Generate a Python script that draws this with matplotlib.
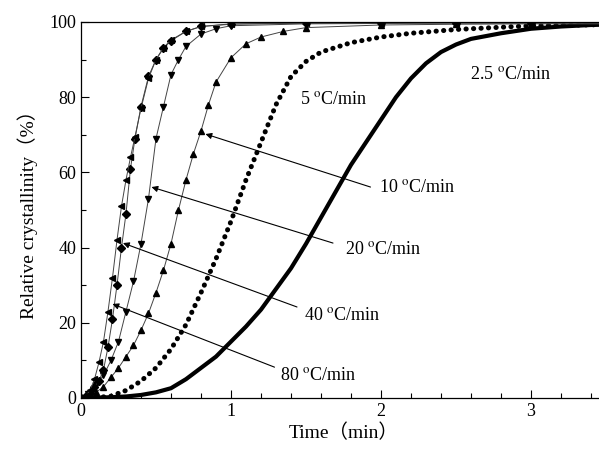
import numpy as np
import matplotlib.pyplot as plt

plt.rcParams['font.family'] = ['Liberation Serif', 'Noto Sans CJK SC']
plt.rcParams['mathtext.fontset'] = 'stix'

# values (time in min, relative crystallinity in %)
t_80 = [0, 0.03, 0.06, 0.09, 0.12, 0.15, 0.18, 0.21, 0.24, 0.27, 0.30, 0.33, 0.36,
        0.40, 0.45, 0.50, 0.55, 0.60, 0.70, 0.80, 1.0, 1.5, 2.0, 2.5, 3.0, 3.5]
y_80 = [0, 0.5, 2, 5, 9.5, 15, 23, 32, 42, 51, 58, 64, 69.5,
        77, 85, 90, 93.2, 95.2, 97.5, 98.8, 99.5, 99.7, 99.8, 99.8, 99.8, 99.8]

t_40 = [0, 0.03, 0.06, 0.09, 0.12, 0.15, 0.18, 0.21, 0.24, 0.27, 0.30, 0.33, 0.36,
        0.40, 0.45, 0.50, 0.55, 0.60, 0.70, 0.80, 1.0, 1.5, 2.0, 2.5, 3.0, 3.5]
y_40 = [0, 0.3, 1.2, 3, 4.5, 7.5, 13.5, 21, 30, 40, 49, 61, 69,
        77.5, 85.5, 90, 93, 95, 97.5, 98.8, 99.4, 99.7, 99.8, 99.8, 99.8, 99.8]

t_20 = [0, 0.05, 0.10, 0.15, 0.20, 0.25, 0.30, 0.35, 0.40, 0.45, 0.50, 0.55, 0.60,
        0.65, 0.70, 0.80, 0.90, 1.0, 1.5, 2.0, 2.5, 3.0, 3.5]
y_20 = [0, 1, 3.5, 6, 10, 15, 23, 31, 41, 53, 69, 77.5, 86,
        90, 93.5, 96.8, 98.2, 99, 99.5, 99.6, 99.7, 99.7, 99.7]

t_10 = [0, 0.05, 0.10, 0.15, 0.20, 0.25, 0.30, 0.35, 0.40, 0.45, 0.50, 0.55, 0.60,
        0.65, 0.70, 0.75, 0.80, 0.85, 0.90, 1.0, 1.1, 1.2, 1.35, 1.5, 2.0, 2.5, 3.0, 3.5]
y_10 = [0, 0.3, 1.5, 3, 5.5, 8, 11, 14, 18, 22.5, 28, 34, 41,
        50, 58, 65, 71, 78, 84, 90.5, 94.2, 96, 97.5, 98.5, 99.2, 99.4, 99.5, 99.5]

t_5 = [0, 0.1, 0.2, 0.3, 0.4, 0.5, 0.6, 0.7, 0.8, 0.9, 1.0, 1.1, 1.2, 1.3, 1.4,
       1.5, 1.6, 1.8, 2.0, 2.2, 2.5, 3.0, 3.5]
y_5 = [0, 0.1, 0.5, 2, 4.5, 8, 13, 19.5, 28, 37, 47, 58, 68, 78, 85.5,
       89.5, 92, 94.5, 96, 97, 98, 99, 99.3]

t_25 = [0, 0.2, 0.3, 0.4, 0.5, 0.6, 0.7, 0.8, 0.9, 1.0, 1.1, 1.2, 1.3, 1.4, 1.5,
        1.6, 1.7, 1.8, 1.9, 2.0, 2.1, 2.2, 2.3, 2.4, 2.5, 2.6, 2.8, 3.0, 3.2, 3.4, 3.5]
y_25 = [0, 0.2, 0.4, 0.8, 1.5, 2.6, 5, 8, 11, 15, 19, 23.5, 29, 34.5, 41,
        48, 55, 62, 68, 74, 80, 85, 89, 92, 94, 95.5, 97, 98.2, 98.8, 99.2, 99.3]

fig = plt.figure(figsize=(5.99, 4.55), dpi=100)
ax = fig.add_axes([0.1352, 0.1253, 0.8765, 0.8264])

ax.plot(t_25, y_25, color='k', lw=3.0, solid_capstyle='butt')
ax.plot(t_5, y_5, color='k', lw=3.6, linestyle=(0, (0.05, 1.45)), dash_capstyle='round')
ax.plot(t_10, y_10, color='#444444', lw=0.7, marker='^', ms=4.5, mfc='k', mec='k')
ax.plot(t_20, y_20, color='#444444', lw=0.7, marker='v', ms=4.5, mfc='k', mec='k')
ax.plot(t_40, y_40, color='#444444', lw=0.7, marker='D', ms=3.8, mfc='k', mec='k')
ax.plot(t_80, y_80, color='#444444', lw=0.7, marker='<', ms=4.5, mfc='k', mec='k')

arr = dict(arrowstyle='-|>', lw=0.8, color='k', mutation_scale=9, shrinkA=0, shrinkB=0)
lab = r'%s $^{\mathrm{o}}$C/min'
ax.annotate('', xy=(0.83, 70.2), xytext=(1.93, 56.1), arrowprops=arr)
ax.annotate('', xy=(0.47, 56.1), xytext=(1.68, 41.2), arrowprops=arr)
ax.annotate('', xy=(0.28, 41.2), xytext=(1.44, 24.2), arrowprops=arr)
ax.annotate('', xy=(0.21, 25.0), xytext=(1.29, 8.2), arrowprops=arr)
ax.text(1.99, 56, lab % '10', fontsize=13, va='center')
ax.text(1.76, 39.4, lab % '20', fontsize=13, va='center')
ax.text(1.49, 22, lab % '40', fontsize=13, va='center')
ax.text(1.33, 6.1, lab % '80', fontsize=13, va='center')
ax.text(1.46, 79.5, lab % '5', fontsize=13, va='center')
ax.text(2.59, 86, lab % '2.5', fontsize=13, va='center')

ax.set_xlim(0, 3.5)
ax.set_ylim(0, 100)
ax.set_xticks([0, 1, 2, 3])
ax.set_xticks(np.arange(0, 3.5, 0.2), minor=True)
ax.set_yticks([0, 20, 40, 60, 80, 100])
ax.set_yticks(np.arange(0, 101, 10), minor=True)
ax.tick_params(which='both', direction='in', labelsize=13, width=0.8)
ax.tick_params(which='major', length=6)
ax.tick_params(which='minor', length=3.5)
for s in ax.spines.values():
    s.set_linewidth(0.9)

ax.set_xlabel('Time（min）', fontsize=14, labelpad=3)
ax.set_ylabel('Relative crystallinity（%）', fontsize=14, labelpad=8)

fig.savefig('out.png', dpi=100)
